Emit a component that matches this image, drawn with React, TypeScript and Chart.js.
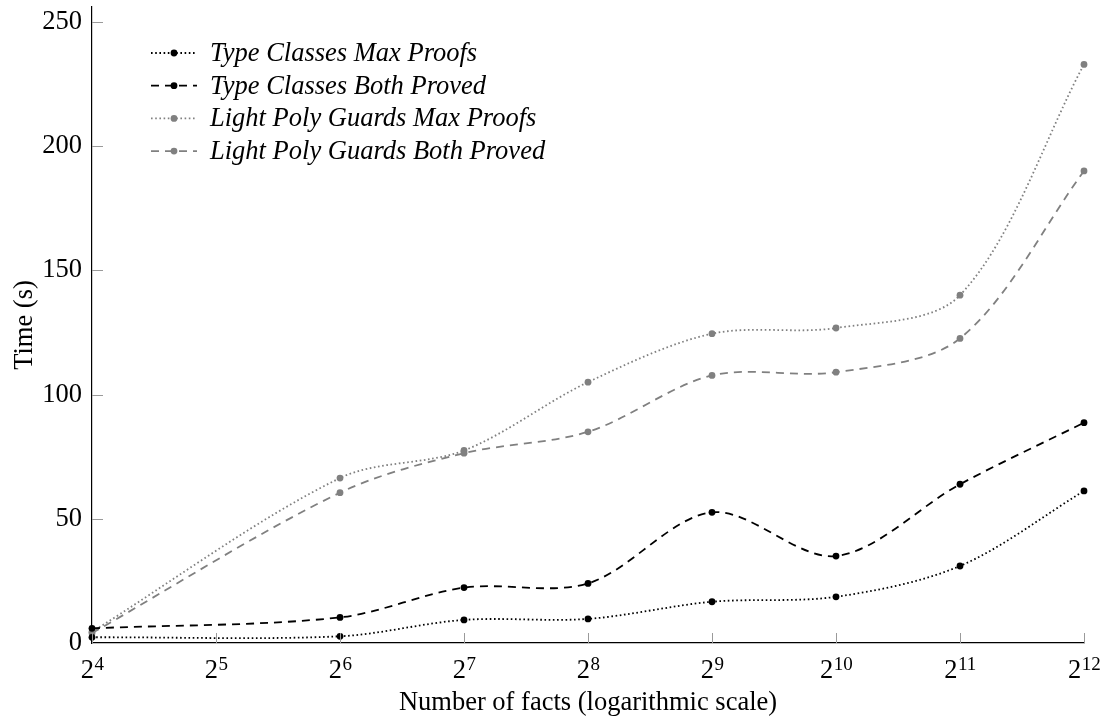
import React, { useEffect, useRef } from "react";
import { Chart, registerables } from "chart.js";

Chart.register(...registerables);

const facts = [16, 64, 128, 256, 512, 1024, 2048, 4096];
const xTickValues = [16, 32, 64, 128, 256, 512, 1024, 2048, 4096];
const yTickValues = [0, 50, 100, 150, 200, 250];

const typeClassesMax = [2.3, 2.7, 9.3, 9.7, 16.6, 18.6, 31.0, 61.2];
const typeClassesBoth = [5.9, 10.3, 22.3, 24.0, 52.6, 35.0, 63.9, 88.7];
const lightPolyMax = [4.5, 66.4, 77.5, 105.0, 124.5, 126.8, 140.0, 232.9];
const lightPolyBoth = [4.0, 60.5, 76.4, 85.0, 107.7, 109.0, 122.6, 190.0];

const seriesNames = [
  "Type Classes Max Proofs",
  "Type Classes Both Proved",
  "Light Poly Guards Max Proofs",
  "Light Poly Guards Both Proved",
];

const SERIF = "'Liberation Serif', 'DejaVu Serif', serif";
const GRAY = "#808080";
const DOTTED = [1.6, 2.6];
const DASHED = [8, 6];
const FS = 26.5;

export default function App() {
  const ref = useRef<HTMLCanvasElement | null>(null);

  useEffect(() => {
    document.body.style.margin = "0";
    const canvas = ref.current;
    if (!canvas) return;

    const mk = (label: string, data: number[], color: string, dash: number[]) => ({
      label,
      data: facts.map((x, i) => ({ x, y: data[i] })),
      borderColor: color,
      backgroundColor: color,
      borderWidth: 1.8,
      borderDash: dash,
      pointRadius: 3.4,
      pointBorderWidth: 0,
      pointBackgroundColor: color,
      tension: 0.32,
      clip: false as any,
    });

    const datasets = [
      mk(seriesNames[0], typeClassesMax, "#000000", DOTTED),
      mk(seriesNames[1], typeClassesBoth, "#000000", DASHED),
      mk(seriesNames[2], lightPolyMax, GRAY, DOTTED),
      mk(seriesNames[3], lightPolyBoth, GRAY, DASHED),
    ];

    const tickPlugin = {
      id: "innerTicksAndLegend",
      afterDatasetsDraw(chart: any) {
        const ctx = chart.ctx;
        const xs = chart.scales.x;
        const ys = chart.scales.y;
        const area = chart.chartArea;
        ctx.save();
        ctx.strokeStyle = "#9a9a9a";
        ctx.lineWidth = 1;
        ctx.setLineDash([]);
        yTickValues.forEach((v) => {
          if (v === 0) return;
          const y = Math.round(ys.getPixelForValue(v)) + 0.5;
          ctx.beginPath();
          ctx.moveTo(area.left, y);
          ctx.lineTo(area.left + 11, y);
          ctx.stroke();
        });
        xTickValues.forEach((v) => {
          const x = Math.round(xs.getPixelForValue(v)) + 0.5;
          ctx.beginPath();
          ctx.moveTo(x, area.bottom);
          ctx.lineTo(x, area.bottom - 10);
          ctx.stroke();
        });

        // x tick labels: base 2 with superscript exponent
        ctx.fillStyle = "#000";
        ctx.textBaseline = "alphabetic";
        ctx.textAlign = "left";
        const baseFont = FS + "px " + SERIF;
        const expFont = "19px " + SERIF;
        xTickValues.forEach((v) => {
          const e = String(Math.round(Math.log2(v)));
          ctx.font = baseFont;
          const wb = ctx.measureText("2").width;
          ctx.font = expFont;
          const we = ctx.measureText(e).width;
          const x = xs.getPixelForValue(v);
          const x0 = x - (wb + we) / 2;
          const baseY = area.bottom + 35;
          ctx.font = baseFont;
          ctx.fillText("2", x0, baseY);
          ctx.font = expFont;
          ctx.fillText(e, x0 + wb + 0.5, baseY - 8);
        });

        // legend
        const ds = chart.data.datasets;
        ds.forEach((d: any, i: number) => {
          const y = 53 + i * 32.7;
          ctx.strokeStyle = d.borderColor;
          ctx.lineWidth = 1.8;
          ctx.setLineDash(d.borderDash);
          ctx.beginPath();
          ctx.moveTo(151, y);
          ctx.lineTo(197, y);
          ctx.stroke();
          ctx.setLineDash([]);
          ctx.fillStyle = d.borderColor;
          ctx.beginPath();
          ctx.arc(174, y, 3.4, 0, Math.PI * 2);
          ctx.fill();
          ctx.fillStyle = "#000";
          ctx.font = "italic " + FS + "px " + SERIF;
          ctx.textBaseline = "middle";
          ctx.textAlign = "left";
          ctx.fillText(d.label, 210, y + 1);
        });
        ctx.restore();
      },
    };

    const chart = new Chart(canvas, {
      type: "line",
      data: { datasets: datasets as any },
      options: {
        animation: false,
        responsive: true,
        maintainAspectRatio: false,
        layout: { padding: { top: 7, right: 24, left: 0, bottom: 0 } },
        plugins: {
          legend: { display: false },
          tooltip: { enabled: false },
        },
        scales: {
          x: {
            type: "logarithmic",
            min: 16,
            max: 4096,
            grid: { display: false, drawTicks: false },
            border: { display: true, color: "#000", width: 1.2 },
            afterBuildTicks: (scale: any) => {
              scale.ticks = xTickValues.map((v) => ({ value: v }));
            },
            afterFit: (scale: any) => {
              scale.height = 79;
              scale.paddingLeft = 0;
              scale.paddingRight = 0;
            },
            ticks: { display: false },
            title: {
              display: true,
              text: "Number of facts (logarithmic scale)",
              color: "#000",
              font: { family: SERIF, size: FS },
              padding: { top: 0, bottom: 3 },
            },
          },
          y: {
            type: "linear",
            min: 0,
            max: 256,
            grid: { display: false, drawTicks: false },
            border: { display: true, color: "#000", width: 1.2 },
            afterBuildTicks: (scale: any) => {
              scale.ticks = yTickValues.map((v) => ({ value: v }));
            },
            afterFit: (scale: any) => {
              scale.width = 92;
              scale.paddingTop = 0;
              scale.paddingBottom = 0;
            },
            ticks: {
              padding: 10,
              color: "#000",
              font: { family: SERIF, size: FS },
            },
            title: {
              display: true,
              text: "Time (s)",
              color: "#000",
              font: { family: SERIF, size: FS },
              padding: { top: 9, bottom: 0 },
            },
          },
        },
      },
      plugins: [tickPlugin],
    });

    return () => chart.destroy();
  }, []);

  return (
    <div style={{ width: 1108, height: 722, position: "relative", background: "#fff" }}>
      <canvas ref={ref} />
    </div>
  );
}
